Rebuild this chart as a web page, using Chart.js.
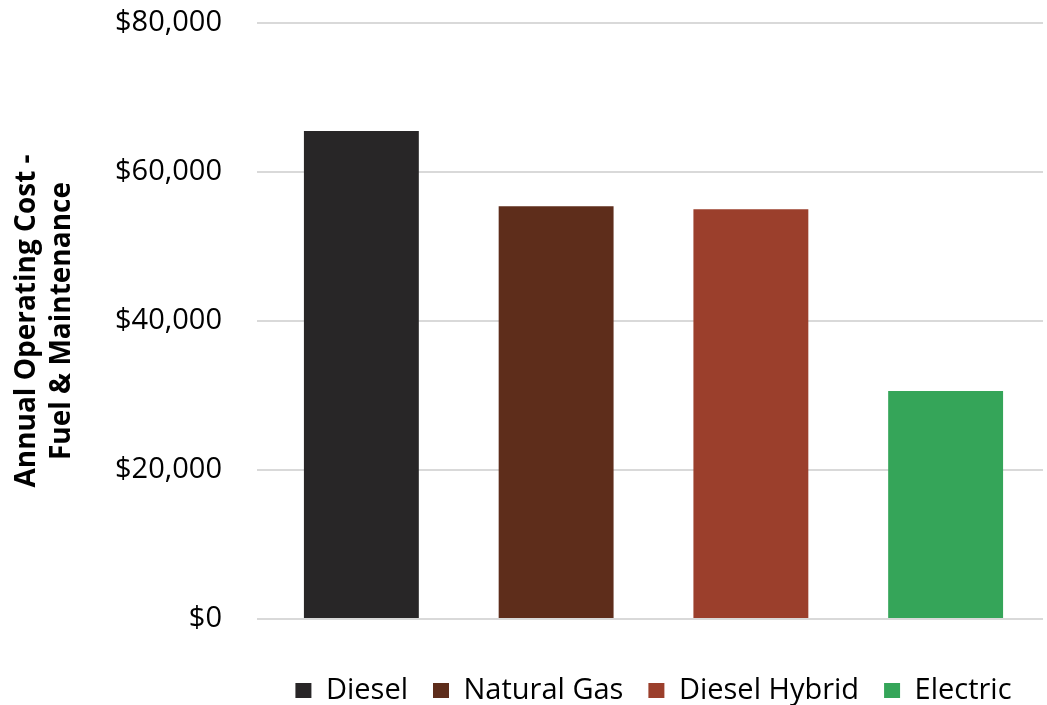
<!DOCTYPE html>
<html>
<head>
<meta charset="utf-8">
<script src="https://cdn.jsdelivr.net/npm/chart.js@4/dist/chart.umd.min.js"></script>
<style>
  html, body { margin: 0; padding: 0; background: #fff; }
  #wrap { width: 1047px; height: 705px; position: relative; }
</style>
</head>
<body>
<div id="wrap"><canvas id="costChart"></canvas></div>
<script>
const categories = ['Diesel', 'Natural Gas', 'Diesel Hybrid', 'Electric'];
const annualCost = [65500, 55400, 55000, 30600];
const barColors = ['#282627', '#5e2d1b', '#9b3f2c', '#35a559'];
const yTicks = [0, 20000, 40000, 60000, 80000];

const fontFamily = '"Open Sans", "Noto Sans", sans-serif';

const ctx = document.getElementById('costChart').getContext('2d');
new Chart(ctx, {
  type: 'bar',
  data: {
    labels: categories,
    datasets: [{
      label: 'Annual Operating Cost',
      data: annualCost,
      backgroundColor: barColors,
      borderWidth: 0,
      categoryPercentage: 1,
      barPercentage: 0.59
    }]
  },
  options: {
    responsive: true,
    maintainAspectRatio: false,
    animation: false,
    layout: { padding: { top: 0, right: 4, bottom: -10, left: 10 } },
    plugins: {
      tooltip: { enabled: false },
      legend: {
        position: 'bottom',
        fullSize: false,
        labels: {
          color: '#000',
          font: { family: fontFamily, size: 29 },
          boxWidth: 16,
          boxHeight: 15,
          padding: 25,
          generateLabels: chart => chart.data.labels.map((lbl, i) => ({
            text: lbl,
            fillStyle: barColors[i],
            strokeStyle: barColors[i],
            lineWidth: 0,
            index: i
          }))
        }
      }
    },
    scales: {
      x: {
        ticks: { display: false },
        grid: { display: false },
        border: { display: false },
        afterFit: scale => { scale.height = 32; }
      },
      y: {
        min: 0,
        max: 80000,
        afterBuildTicks: axis => { axis.ticks = yTicks.map(v => ({ value: v })); },
        afterFit: scale => { scale.paddingTop = 23; scale.paddingBottom = 10; },
        ticks: {
          color: '#000',
          padding: 35,
          font: { family: fontFamily, size: 29 },
          callback: v => '$' + Number(v).toLocaleString('en-US')
        },
        grid: { color: '#d9d9d9', lineWidth: 2, tickLength: 7, drawTicks: true },
        border: { display: false },
        title: {
          display: true,
          text: ['Annual Operating Cost -', 'Fuel & Maintenance'],
          color: '#000',
          font: { family: fontFamily, size: 28, weight: 'bold', lineHeight: 1.25 },
          padding: { top: 0, bottom: 0 }
        }
      }
    }
  }
});
</script>
</body>
</html>
